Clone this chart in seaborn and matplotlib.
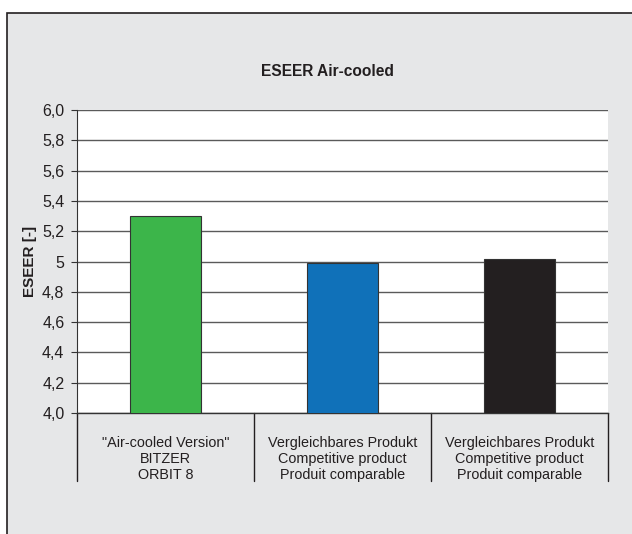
import matplotlib
matplotlib.use("Agg")
import matplotlib.pyplot as plt
import seaborn as sns
import pandas as pd
from matplotlib.patches import Rectangle

categories = ['"Air-cooled Version"\nBITZER\nORBIT 8',
              "Vergleichbares Produkt\nCompetitive product\nProduit comparable",
              "Vergleichbares Produkt\nCompetitive product\nProduit comparable "]
values = [5.30, 4.99, 5.015]
colors = ["#3cb54a", "#1071b9", "#231f20"]
yticks = [4.0, 4.2, 4.4, 4.6, 4.8, 5.0, 5.2, 5.4, 5.6, 5.8, 6.0]
ytick_labels = ["4,0", "4,2", "4,4", "4,6", "4,8", "5", "5,2", "5,4", "5,6", "5,8", "6,0"]

sns.set_theme(style="white")
plt.rcParams["font.family"] = ["Liberation Sans", "DejaVu Sans"]

W, H = 632, 534
fig = plt.figure(figsize=(W / 100, H / 100), dpi=100)
fig.patch.set_facecolor("white")

# grey panel with dark border, kept behind the axes
fig.patches.append(Rectangle((7 / W, -0.1), 1.1, (H - 13) / H + 0.1,
                             transform=fig.transFigure, facecolor="#e6e7e8",
                             edgecolor="#231f20", linewidth=1.2, zorder=-10))

ax = fig.add_axes([77 / W, (H - 413) / H, (608 - 77) / W, (413 - 110) / H])
ax.set_zorder(1)
ax.set_facecolor("white")

df = pd.DataFrame({"cat": categories, "val": values})
sns.barplot(data=df, x="cat", y="val", hue="cat", palette=colors, legend=False,
            saturation=1, width=0.4, edgecolor="#333333", linewidth=0.8, ax=ax, zorder=3)

ax.set_ylim(4.0, 6.0)
ax.set_xlim(-0.5, 2.5)
ax.set_yticks(yticks)
ax.set_yticklabels(ytick_labels, fontsize=11.5, color="#231f20")
ax.yaxis.grid(True, color="#5a5a5a", linewidth=1.0, zorder=0)
ax.set_axisbelow(True)
ax.tick_params(axis="y", left=True, length=4, width=0.8, color="#333333", pad=5)
ax.set_xticks([])
ax.set_xlabel("")
ax.set_ylabel("ESEER [-]", fontsize=11, fontweight="bold", color="#231f20", labelpad=4)

for s in ["top", "right"]:
    ax.spines[s].set_visible(False)
ax.spines["left"].set_color("#333333")
ax.spines["left"].set_linewidth(0.8)
ax.spines["bottom"].set_color("#333333")
ax.spines["bottom"].set_linewidth(1.0)

# category table below the axis
px = 2.0 / (413 - 110)
y_bottom = 4.0 - (481 - 413) * px
for xb in [-0.5, 0.5, 1.5, 2.5]:
    ax.plot([xb, xb], [4.0, y_bottom], color="#231f20", linewidth=1.0, clip_on=False)
for i, lab in enumerate(categories):
    ax.text(i, 4.0 - (459 - 413) * px, lab.strip(), ha="center", va="center",
            fontsize=10.4, color="#231f20", linespacing=1.22)

fig.text(327 / W, 1 - 71 / H, "ESEER Air-cooled", ha="center", va="center",
         fontsize=11.2, fontweight="bold", color="#231f20")

fig.savefig("out.png", dpi=100)
